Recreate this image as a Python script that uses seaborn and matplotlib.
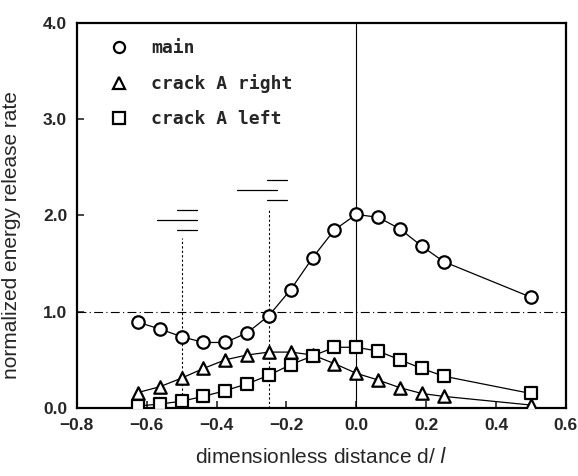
import numpy as np
import pandas as pd
import matplotlib
matplotlib.use('Agg')
import matplotlib.pyplot as plt
from matplotlib.lines import Line2D
import seaborn as sns

# dimensionless distance d/l
d_vals = [-0.625, -0.5625, -0.5, -0.4375, -0.375, -0.3125, -0.25, -0.1875,
          -0.125, -0.0625, 0.0, 0.0625, 0.125, 0.1875, 0.25, 0.5]

main_vals = [0.89, 0.82, 0.74, 0.68, 0.68, 0.78, 0.96, 1.23,
             1.56, 1.85, 2.01, 1.98, 1.86, 1.68, 1.52, 1.15]
right_vals = [0.16, 0.22, 0.31, 0.41, 0.50, 0.55, 0.58, 0.58,
              0.55, 0.46, 0.36, 0.29, 0.21, 0.15, 0.12, 0.03]
left_vals = [0.02, 0.04, 0.07, 0.12, 0.18, 0.25, 0.34, 0.45,
             0.54, 0.63, 0.63, 0.59, 0.50, 0.41, 0.33, 0.15]

series_names = ['main', 'crack A right', 'crack A left']
series_markers = {'main': 'o', 'crack A right': '^', 'crack A left': 's'}

# guide lines
dotted_x = [-0.5, -0.25]
dotted_top = [1.76, 2.06]
# short horizontal bars above the dotted guides: (y, x0, x1)
bars = [(2.06, -0.514, -0.457), (1.95, -0.571, -0.457), (1.85, -0.514, -0.457),
        (2.37, -0.256, -0.199), (2.26, -0.342, -0.227), (2.16, -0.256, -0.199)]

x_ticks = [-0.8, -0.6, -0.4, -0.2, 0.0, 0.2, 0.4, 0.6]
y_ticks = [0.0, 1.0, 2.0, 3.0, 4.0]

df = pd.DataFrame({
    'd': d_vals * 3,
    'G': main_vals + right_vals + left_vals,
    'series': [s for s in series_names for _ in d_vals],
})

sns.set_style('ticks')
plt.rcParams['font.family'] = ['Liberation Sans', 'DejaVu Sans']

fig = plt.figure(figsize=(5.78, 4.76), dpi=100)
ax = fig.add_axes([0.133, 0.143, 0.846, 0.809])

# reference lines
ax.axhline(1.0, color='black', lw=0.8, ls=(0, (8, 3, 1, 3)), zorder=1)
ax.axvline(0.0, color='black', lw=0.8, zorder=1)
for xv, top in zip(dotted_x, dotted_top):
    ax.plot([xv, xv], [0, top], color='black', lw=0.8, ls=(0, (2, 2)), zorder=1)
for yv, x0, x1 in bars:
    ax.plot([x0, x1], [yv, yv], color='black', lw=0.9, zorder=1)

sns.lineplot(data=df, x='d', y='G', units='series', estimator=None,
             color='black', lw=0.9, legend=False, ax=ax, zorder=2)
for name in series_names:
    sub = df[df['series'] == name]
    sns.scatterplot(data=sub, x='d', y='G', marker=series_markers[name], s=80,
                    facecolor='white', edgecolor='black', linewidth=1.6,
                    legend=False, ax=ax, zorder=3)

ax.set_xlim(-0.8, 0.6)
ax.set_ylim(0, 4.0)
ax.set_xticks(x_ticks)
ax.set_yticks(y_ticks)
ax.set_xticklabels([f'{t:.1f}'.replace('-', '\u2212') for t in x_ticks],
                   fontweight='bold', fontsize=12.5)
ax.set_yticklabels([f'{t:.1f}' for t in y_ticks], fontweight='bold', fontsize=12.5)
ax.tick_params(direction='in', length=5, width=1.2, pad=7)
for sp in ax.spines.values():
    sp.set_linewidth(1.6)
    sp.set_color('black')

ax.set_xlabel('dimensionless distance d/ $\\mathit{l}$', fontsize=15, labelpad=10)
ax.set_ylabel('normalized energy release rate', fontsize=15)
ax.yaxis.set_label_coords(-0.115, 0.45)

handles = [Line2D([], [], ls='none', marker=series_markers[n], ms=8,
                  mfc='white', mec='black', mew=1.6) for n in series_names]
ax.legend(handles, series_names, loc='upper left', frameon=False,
          bbox_to_anchor=(0.015, 1.0),
          prop={'family': 'DejaVu Sans Mono', 'size': 13, 'weight': 'bold'},
          labelspacing=0.95, handletextpad=0.8, borderaxespad=0.4,
          borderpad=0.5)

fig.savefig('out.png', dpi=100)
